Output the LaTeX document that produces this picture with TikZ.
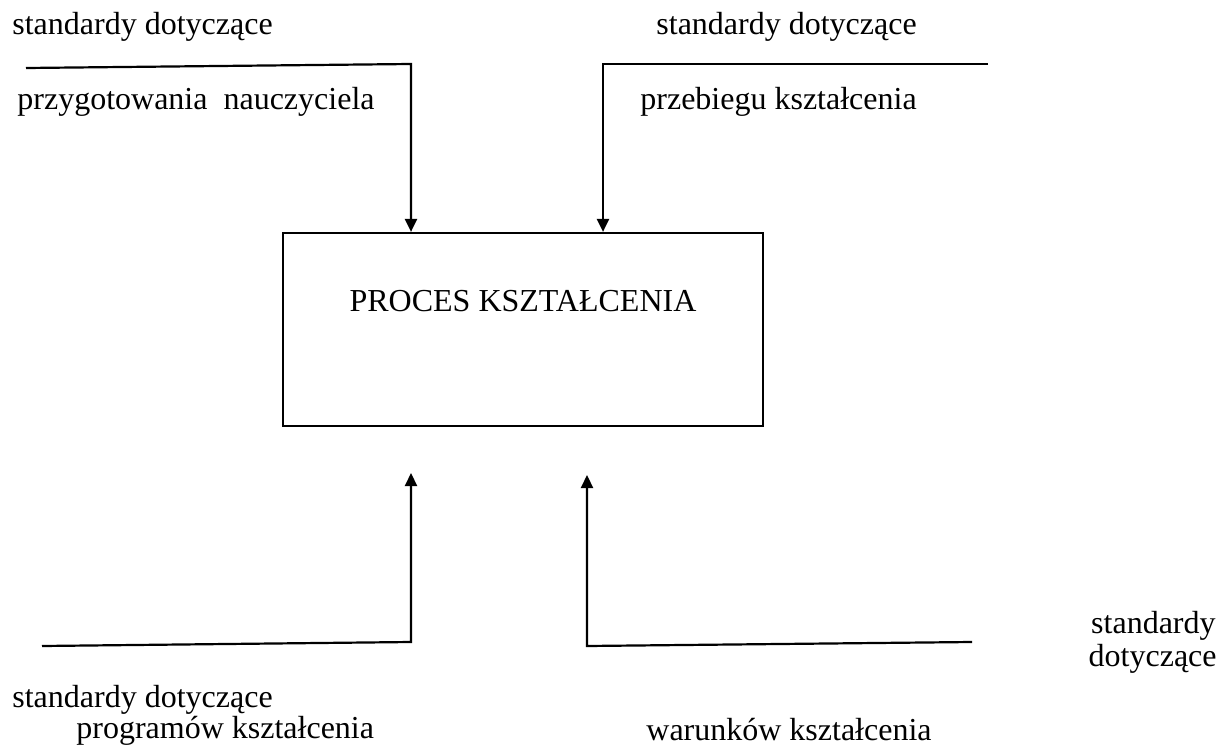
\documentclass[tikz,border=0pt]{standalone}
\usepackage{fontspec}
\setmainfont{Liberation Serif}
\usepackage{tikz}
\usetikzlibrary{arrows.meta,calc}

\tikzset{
  conn/.style={line width=1.1pt, -{Triangle[length=6.5pt,width=6pt]}},
  lbl/.style={inner sep=0pt, font=\fontsize{16}{19}\selectfont}
}

\begin{document}
\begin{tikzpicture}[x=0.5pt, y=-0.5pt]
    \useasboundingbox (0,0) rectangle (1225,749);

    % --- Proces (central box) ---
    \node[draw, line width=1.1pt, minimum width=240pt, minimum height=96.5pt, inner sep=0pt] (proces) at (523,329.5) {};
    \node[lbl, anchor=base] (proceslabel) at (523,311) {PROCES KSZTAŁCENIA};

    % --- Top left: przygotowanie nauczyciela ---
    \node[lbl, anchor=base west] (tlA) at (12,35) {standardy dotyczące};
    \node[lbl, anchor=base west] (tlB) at (17,110) {przygotowania\ \ nauczyciela};
    \coordinate (tlstart) at (26,68);
    \coordinate (tlcorner) at (411,64);
    \draw[conn] (tlstart) -- (tlcorner) -- (tlcorner |- proces.north);

    % --- Top right: przebieg ksztalcenia ---
    \node[lbl, anchor=base west] (trA) at (656,35) {standardy dotyczące};
    \node[lbl, anchor=base west] (trB) at (640,110) {przebiegu kształcenia};
    \coordinate (trstart) at (988,64);
    \coordinate (trcorner) at (603,64);
    \draw[conn] (trstart) -- (trcorner) -- (trcorner |- proces.north);

    % --- Bottom left: programy ksztalcenia ---
    \node[lbl, anchor=base west] (blA) at (12,707) {standardy dotyczące};
    \node[lbl, anchor=base west] (blB) at (76,738) {programów kształcenia};
    \coordinate (blstart) at (42,646);
    \coordinate (blcorner) at (411,642);
    \coordinate (bltip) at (411,473);
    \draw[conn] (blstart) -- (blcorner) -- (bltip);

    % --- Bottom right: warunki ksztalcenia ---
    \node[lbl, anchor=base east] (brA) at (1216,633) {standardy};
    \node[lbl, anchor=base east] (brB) at (1217,666) {dotyczące};
    \node[lbl, anchor=base west] (brC) at (646,740) {warunków kształcenia};
    \coordinate (brstart) at (972,642);
    \coordinate (brcorner) at (587,646);
    \coordinate (brtip) at (587,475);
    \draw[conn] (brstart) -- (brcorner) -- (brtip);
\end{tikzpicture}
\end{document}
